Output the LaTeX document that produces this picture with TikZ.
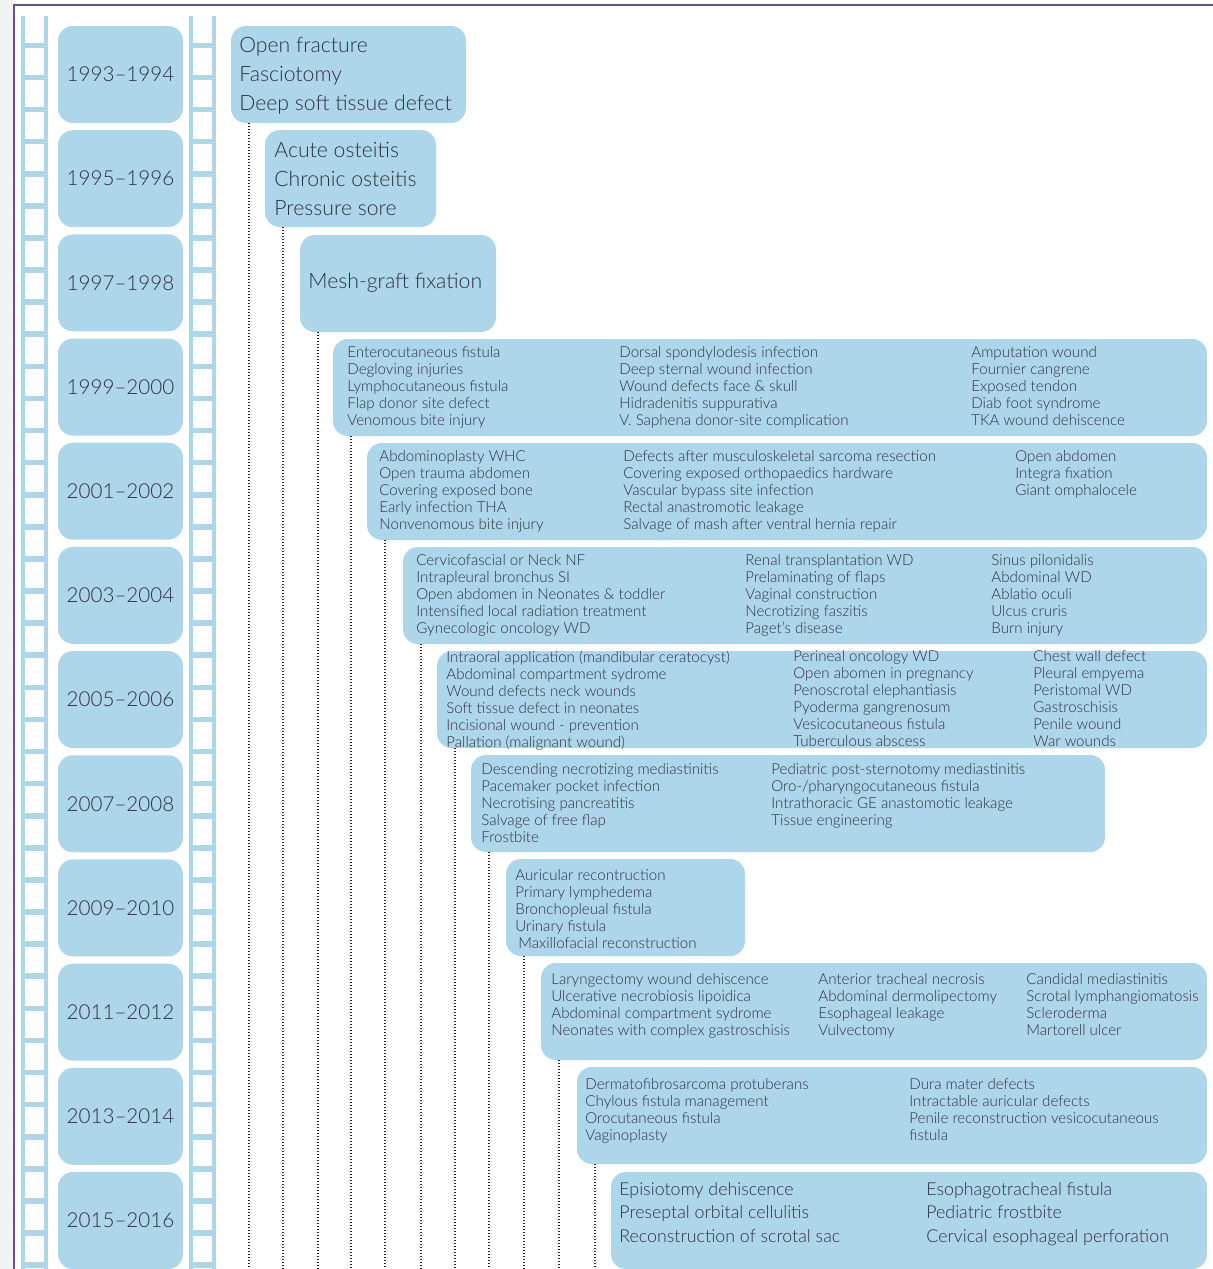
\documentclass[tikz,border=0pt]{standalone}
\usepackage{fontspec}
\setmainfont{Lato Light}
\usetikzlibrary{positioning}

\definecolor{sky}{HTML}{AED6EA}
\definecolor{ink}{HTML}{30303F}
\definecolor{frame}{HTML}{6B4E96}
\definecolor{side}{HTML}{F2F2F2}

\newcommand{\yeartxt}{\fontsize{10.3}{14.5}\selectfont}
\newcommand{\bigtxt}{\fontsize{10.6}{14.5}\selectfont}
\newcommand{\midtxt}{\fontsize{8.9}{11.75}\selectfont}
\newcommand{\smalltxt}{\fontsize{7.55}{8.5}\selectfont}

\begin{document}
\begin{tikzpicture}[x=0.5pt, y=-0.5pt, node distance=52.09pt]
        \tikzstyle{yearbox}=[fill=sky, rounded corners=7.5pt, minimum width=62.5pt, minimum height=48.5pt, inner sep=0pt, text=ink, font=\yeartxt]
        \tikzstyle{eventbox}=[fill=sky, rounded corners=7.5pt, minimum height=48.5pt, anchor=north west, inner sep=0pt, outer sep=0pt]
        \tikzstyle{bigcol}=[anchor=north west, align=left, inner sep=0pt, text=ink, font=\bigtxt]
        \tikzstyle{midcol}=[bigcol, font=\midtxt]
        \tikzstyle{smallcol}=[bigcol, font=\smalltxt]
        \tikzstyle{trail}=[draw=black!85, line width=0.55pt, dash pattern=on 0.5pt off 1pt]
        \tikzstyle{rail}=[fill=sky]
        \tikzstyle{holes}=[draw=white, line width=9.5pt, dash pattern=on 13.25pt off 2.8pt]

        \useasboundingbox (0,0) rectangle (1213,1269);
        \coordinate (floor) at (0,1269);

        % page edge and frame
        \fill[side] (0,0) rectangle (13,1269);
        \draw[frame, line width=1pt] (14,1269) -- (14,5) -- (1213,5);

        % film strips
        \fill[rail] (21,16) rectangle (47.7,1269);
        \draw[holes] (34.5,16) -- (34.5,1269);
        \fill[rail] (189.3,16) rectangle (215.7,1269);
        \draw[holes] (202.8,16) -- (202.8,1269);

        % years
        \node[yearbox] (y1) at (120.5,74.5) {1993--1994};
        \node[yearbox] (y2) [below of=y1] {1995--1996};
        \node[yearbox] (y3) [below of=y2] {1997--1998};
        \node[yearbox] (y4) [below of=y3] {1999--2000};
        \node[yearbox] (y5) [below of=y4] {2001--2002};
        \node[yearbox] (y6) [below of=y5] {2003--2004};
        \node[yearbox] (y7) [below of=y6] {2005--2006};
        \node[yearbox] (y8) [below of=y7] {2007--2008};
        \node[yearbox] (y9) [below of=y8] {2009--2010};
        \node[yearbox] (y10) [below of=y9] {2011--2012};
        \node[yearbox] (y11) [below of=y10] {2013--2014};
        \node[yearbox] (y12) [below of=y11] {2015--2016};

        % event boxes
        \node[eventbox, minimum width=117.5pt] (e1) at (231,26) {};
        \node[eventbox, minimum width=85.5pt] (e2) at (265,130) {};
        \node[eventbox, minimum width=98pt] (e3) at (300,235) {};
        \node[eventbox, minimum width=437pt] (e4) at (333,339) {};
        \node[eventbox, minimum width=420pt] (e5) at (367,443) {};
        \node[eventbox, minimum width=402pt] (e6) at (403,547) {};
        \node[eventbox, minimum width=385pt] (e7) at (437,651) {};
        \node[eventbox, minimum width=317pt] (e8) at (471,755) {};
        \node[eventbox, minimum width=119.5pt] (e9) at (506,859) {};
        \node[eventbox, minimum width=333pt] (e10) at (541,963) {};
        \node[eventbox, minimum width=315pt] (e11) at (577,1067) {};
        \node[eventbox, minimum width=298pt] (e12) at (611,1172) {};

        % dotted trails
        \draw[trail] ([xshift=9pt]e1.south west) -- ([xshift=9pt]e1.south west |- floor)
                     ([xshift=9pt]e2.south west) -- ([xshift=9pt]e2.south west |- floor)
                     ([xshift=9pt]e3.south west) -- ([xshift=9pt]e3.south west |- floor)
                     ([xshift=9pt]e4.south west) -- ([xshift=9pt]e4.south west |- floor)
                     ([xshift=9pt]e5.south west) -- ([xshift=9pt]e5.south west |- floor)
                     ([xshift=9pt]e6.south west) -- ([xshift=9pt]e6.south west |- floor)
                     ([xshift=9pt]e7.south west) -- ([xshift=9pt]e7.south west |- floor)
                     ([xshift=9pt]e8.south west) -- ([xshift=9pt]e8.south west |- floor)
                     ([xshift=9pt]e9.south west) -- ([xshift=9pt]e9.south west |- floor)
                     ([xshift=9pt]e10.south west) -- ([xshift=9pt]e10.south west |- floor)
                     ([xshift=9pt]e11.south west) -- ([xshift=9pt]e11.south west |- floor);

        % 1993--1998
        \node[bigcol] (t1) at (239,37) {Open fracture\\Fasciotomy\\Deep soft tissue defect};
        \node[bigcol] (t2) at (274,141.5) {Acute osteitis\\Chronic osteitis\\Pressure sore};
        \node[bigcol, anchor=west] (t3) at (308,283) {Mesh-graft fixation};

        % 1999--2000
        \node[smallcol] (t4a) at (347,346.5) {Enterocutaneous fistula\\Degloving injuries\\Lymphocutaneous fistula\\Flap donor site defect\\Venomous bite injury};
        \node[smallcol] (t4b) at (619,346.5) {Dorsal spondylodesis infection\\Deep sternal wound infection\\Wound defects face \& skull\\Hidradenitis suppurativa\\V. Saphena donor-site complication};
        \node[smallcol] (t4c) at (971,346.5) {Amputation wound\\Fournier cangrene\\Exposed tendon\\Diab foot syndrome\\TKA wound dehiscence};

        % 2001--2002
        \node[smallcol] (t5a) at (379,450.5) {Abdominoplasty WHC\\Open trauma abdomen\\Covering exposed bone\\Early infection THA\\Nonvenomous bite injury};
        \node[smallcol] (t5b) at (623,450.5) {Defects after musculoskeletal sarcoma resection\\Covering exposed orthopaedics hardware\\Vascular bypass site infection\\Rectal anastromotic leakage\\Salvage of mash after ventral hernia repair};
        \node[smallcol] (t5c) at (1015,450.5) {Open abdomen\\Integra fixation\\Giant omphalocele};

        % 2003--2004
        \node[smallcol] (t6a) at (416,554.5) {Cervicofascial or Neck NF\\Intrapleural bronchus SI\\Open abdomen in Neonates \& toddler\\Intensified local radiation treatment\\Gynecologic oncology WD};
        \node[smallcol] (t6b) at (745,554.5) {Renal transplantation WD\\Prelaminating of flaps\\Vaginal construction\\Necrotizing faszitis\\Paget's disease};
        \node[smallcol] (t6c) at (991,554.5) {Sinus pilonidalis\\Abdominal WD\\Ablatio oculi\\Ulcus cruris\\Burn injury};

        % 2005--2006
        \node[smallcol] (t7a) at (446,650.5) {Intraoral application (mandibular ceratocyst)\\Abdominal compartment sydrome\\Wound defects neck wounds\\Soft tissue defect in neonates\\Incisional wound - prevention\\Pallation (malignant wound)};
        \node[smallcol] (t7b) at (793,650.5) {Perineal oncology WD\\Open abomen in pregnancy\\Penoscrotal elephantiasis\\Pyoderma gangrenosum\\Vesicocutaneous fistula\\Tuberculous abscess};
        \node[smallcol] (t7c) at (1033,650.5) {Chest wall defect\\Pleural empyema\\Peristomal WD\\Gastroschisis\\Penile wound\\War wounds};

        % 2007--2008
        \node[smallcol] (t8a) at (481,763.5) {Descending necrotizing mediastinitis\\Pacemaker pocket infection\\Necrotising pancreatitis\\Salvage of free flap\\Frostbite};
        \node[smallcol] (t8b) at (771,763.5) {Pediatric post-sternotomy mediastinitis\\Oro-/pharyngocutaneous fistula\\Intrathoracic GE anastomotic leakage\\Tissue engineering};

        % 2009--2010
        \node[smallcol] (t9a) at (515,869.5) {Auricular recontruction\\Primary lymphedema\\Bronchopleual fistula\\Urinary fistula\\\hspace*{1.5pt}Maxillofacial reconstruction};

        % 2011--2012
        \node[smallcol] (t10a) at (551,973.5) {Laryngectomy wound dehiscence\\Ulcerative necrobiosis lipoidica\\Abdominal compartment sydrome\\Neonates with complex gastroschisis};
        \node[smallcol] (t10b) at (818,973.5) {Anterior tracheal necrosis\\Abdominal dermolipectomy\\Esophageal leakage\\Vulvectomy};
        \node[smallcol] (t10c) at (1026,973.5) {Candidal mediastinitis\\Scrotal lymphangiomatosis\\Scleroderma\\Martorell ulcer};

        % 2013--2014
        \node[smallcol] (t11a) at (585,1078.5) {Dermatofibrosarcoma protuberans\\Chylous fistula management\\Orocutaneous fistula\\Vaginoplasty};
        \node[smallcol] (t11b) at (909,1078.5) {Dura mater defects\\Intractable auricular defects\\Penile reconstruction vesicocutaneous\\fistula};

        % 2015--2016
        \node[midcol] (t12a) at (619,1182) {Episiotomy dehiscence\\Preseptal orbital cellulitis\\Reconstruction of scrotal sac};
        \node[midcol] (t12b) at (926,1182) {Esophagotracheal fistula\\Pediatric frostbite\\Cervical esophageal perforation};
\end{tikzpicture}
\end{document}
